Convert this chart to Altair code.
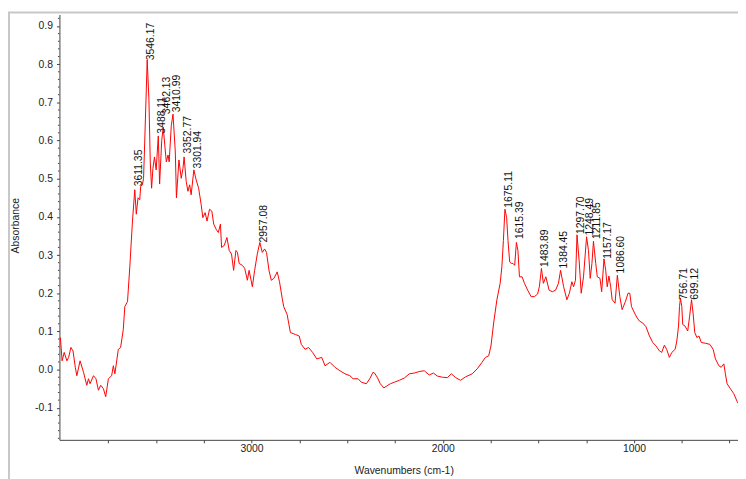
import altair as alt
import pandas as pd

# Spectrum (wavenumber cm-1, absorbance)
wavenumbers = [
    4000, 3991, 3980, 3966, 3957, 3945, 3934, 3922, 3914, 3897, 3879, 3862, 3853, 3845, 3827, 3814,
    3801, 3789, 3775, 3763, 3749, 3732, 3723, 3715, 3697, 3685, 3671, 3663, 3649, 3637, 3623, 3611,
    3603, 3594, 3585, 3580, 3571, 3565, 3559, 3546, 3537, 3530, 3523, 3516, 3508, 3499, 3488, 3481,
    3470, 3462, 3454, 3446, 3437, 3431, 3420, 3411, 3399, 3393, 3380, 3368, 3359, 3353, 3342, 3333,
    3324, 3316, 3302, 3290, 3277, 3264, 3255, 3243, 3233, 3220, 3208, 3198, 3186, 3174, 3163, 3157,
    3143, 3129, 3117, 3105, 3094, 3082, 3074, 3065, 3048, 3036, 3022, 3013, 2996, 2984, 2970, 2957,
    2944, 2932, 2922, 2909, 2897, 2883, 2866, 2854, 2840, 2832, 2814, 2797, 2771, 2751, 2740, 2720,
    2702, 2681, 2659, 2633, 2616, 2590, 2564, 2538, 2512, 2486, 2469, 2443, 2426, 2400, 2382, 2365,
    2357, 2343, 2327, 2308, 2287, 2274, 2253, 2227, 2201, 2175, 2149, 2123, 2097, 2071, 2049, 2028,
    2002, 1976, 1955, 1933, 1907, 1881, 1846, 1820, 1795, 1777, 1760, 1748, 1734, 1717, 1700, 1691,
    1683, 1675, 1666, 1659, 1650, 1641, 1633, 1624, 1615, 1607, 1599, 1585, 1573, 1556, 1538, 1521,
    1504, 1495, 1484, 1474, 1461, 1444, 1427, 1410, 1395, 1384, 1368, 1351, 1338, 1325, 1316, 1306,
    1298, 1287, 1276, 1264, 1248, 1238, 1229, 1220, 1212, 1200, 1192, 1178, 1169, 1157, 1148, 1140,
    1131, 1122, 1114, 1099, 1087, 1074, 1062, 1045, 1031, 1022, 1013, 997, 983, 971, 954, 937,
    919, 902, 885, 867, 855, 841, 829, 815, 802, 785, 776, 767, 762, 757, 750, 745,
    733, 719, 709, 699, 691, 682, 671, 660, 648, 626, 603, 586, 574, 556, 544, 530,
    522, 513, 496, 478, 461, 456,
]
absorbance = [
    0.084, 0.023, 0.045, 0.023, 0.032, 0.058, 0.049, 0.006, -0.016, 0.023, -0.007, -0.041, -0.024, -0.037, -0.016, -0.024,
    -0.054, -0.041, -0.050, -0.071, -0.024, -0.016, 0.010, -0.011, 0.053, 0.058, 0.105, 0.165, 0.178, 0.269, 0.389, 0.471,
    0.407, 0.450, 0.445, 0.480, 0.484, 0.501, 0.596, 0.811, 0.708, 0.544, 0.475, 0.527, 0.557, 0.523, 0.612, 0.486,
    0.600, 0.635, 0.588, 0.544, 0.562, 0.544, 0.639, 0.669, 0.570, 0.450, 0.549, 0.501, 0.527, 0.557, 0.493, 0.467,
    0.484, 0.458, 0.523, 0.497, 0.475, 0.433, 0.398, 0.411, 0.389, 0.420, 0.415, 0.381, 0.368, 0.359, 0.381, 0.320,
    0.325, 0.346, 0.312, 0.303, 0.260, 0.312, 0.307, 0.278, 0.273, 0.265, 0.234, 0.260, 0.217, 0.260, 0.303, 0.333,
    0.307, 0.316, 0.307, 0.260, 0.234, 0.239, 0.256, 0.230, 0.187, 0.165, 0.144, 0.097, 0.092, 0.088, 0.066, 0.053,
    0.058, 0.045, 0.028, 0.032, 0.010, 0.019, 0.006, -0.003, -0.011, -0.016, -0.024, -0.024, -0.033, -0.037, -0.024, -0.007,
    -0.009, -0.020, -0.037, -0.048, -0.041, -0.037, -0.033, -0.028, -0.022, -0.011, -0.009, -0.005, -0.003, -0.014, -0.009, -0.017,
    -0.020, -0.021, -0.011, -0.021, -0.028, -0.019, -0.011, 0.002, 0.019, 0.032, 0.036, 0.062, 0.122, 0.183, 0.226, 0.269,
    0.338, 0.420, 0.398, 0.338, 0.282, 0.278, 0.278, 0.273, 0.333, 0.312, 0.243, 0.243, 0.226, 0.208, 0.191, 0.191,
    0.198, 0.217, 0.265, 0.226, 0.243, 0.208, 0.204, 0.208, 0.226, 0.260, 0.217, 0.183, 0.200, 0.230, 0.217, 0.234,
    0.353, 0.286, 0.200, 0.243, 0.348, 0.312, 0.239, 0.278, 0.336, 0.278, 0.243, 0.239, 0.204, 0.290, 0.260, 0.217,
    0.245, 0.217, 0.183, 0.174, 0.247, 0.191, 0.157, 0.178, 0.200, 0.200, 0.165, 0.148, 0.135, 0.127, 0.122, 0.112,
    0.088, 0.071, 0.062, 0.049, 0.045, 0.064, 0.053, 0.032, 0.045, 0.053, 0.075, 0.114, 0.165, 0.187, 0.165, 0.118,
    0.114, 0.101, 0.140, 0.183, 0.148, 0.097, 0.084, 0.088, 0.071, 0.069, 0.066, 0.053, 0.028, 0.010, 0.006, 0.015,
    -0.011, -0.037, -0.050, -0.063, -0.083, -0.088,
]

# Peak annotations (label text, wavenumber, height where the label starts)
peak_texts = ["3611.35", "3546.17", "3488.11", "3462.13", "3410.99", "3352.77", "3301.94", "2957.08",
              "1675.11", "1615.39", "1483.89", "1384.45", "1297.70", "1248.49", "1211.85", "1157.17",
              "1086.60", "756.71", "699.12"]
peak_wn = [3611.35, 3546.17, 3488.11, 3462.13, 3410.99, 3352.77, 3301.94, 2957.08,
           1675.11, 1615.39, 1483.89, 1384.45, 1297.70, 1248.49, 1211.85, 1157.17,
           1086.60, 756.71, 699.12]
peak_height = [0.480, 0.810, 0.618, 0.669, 0.674, 0.566, 0.527, 0.333,
               0.424, 0.342, 0.269, 0.265, 0.355, 0.351, 0.342, 0.290,
               0.252, 0.183, 0.183]

x_ticks = [3750, 3500, 3250, 3000, 2750, 2500, 2250, 2000, 1750, 1500, 1250, 1000, 750, 500]
y_major = [-0.1, 0.0, 0.1, 0.2, 0.3, 0.4, 0.5, 0.6, 0.7, 0.8, 0.9]
y_minor = [round(-0.18 + 0.02 * i, 2) for i in range(56) if i % 5 != 4]

spec_df = pd.DataFrame({"wn": wavenumbers, "abs": absorbance})
peak_df = pd.DataFrame({"wn": peak_wn, "h": peak_height, "t": peak_texts})
minor_df = pd.DataFrame({"v": y_minor})

FONT = "Liberation Sans"
AXIS_COLOR = "#444444"

x_scale = alt.Scale(domain=[456, 4005], reverse=True, nice=False, zero=False)
y_scale = alt.Scale(domain=[-0.184, 0.930], nice=False, zero=False)

x_axis = alt.Axis(
    title="Wavenumbers (cm-1)",
    values=x_ticks,
    labelExpr="datum.value % 1000 == 0 ? format(datum.value, 'd') : ''",
    labelOverlap=False,
    grid=False,
    tickSize=3,
    labelPadding=1,
    domainColor=AXIS_COLOR,
    tickColor=AXIS_COLOR,
    labelColor="#222222",
    labelFont=FONT,
    labelFontSize=10.5,
    titleFont=FONT,
    titleFontSize=10.5,
    titleFontWeight="normal",
    titleColor="#222222",
    titleX=348,
    titleY=31,
    titleBaseline="middle",
)
y_axis = alt.Axis(
    title="Absorbance",
    values=y_major,
    labelExpr="replace(format(datum.value, '.1f'), '\u2212', '-')",
    labelOverlap=False,
    grid=False,
    tickSize=3,
    labelPadding=4,
    domainColor=AXIS_COLOR,
    tickColor=AXIS_COLOR,
    labelColor="#222222",
    labelFont=FONT,
    labelFontSize=10.5,
    titleFont=FONT,
    titleFontSize=10.5,
    titleFontWeight="normal",
    titleColor="#222222",
    titleX=-44,
    titleY=213,
    titleBaseline="middle",
)

line = alt.Chart(spec_df).mark_line(color="#ff0000", strokeWidth=1, clip=True).encode(
    x=alt.X("wn:Q", scale=x_scale, axis=x_axis),
    y=alt.Y("abs:Q", scale=y_scale, axis=y_axis),
    order="__order:Q",
).transform_window(__order="row_number()")

minor_ticks = alt.Chart(minor_df).mark_rule(color=AXIS_COLOR, strokeWidth=1).encode(
    x=alt.value(-1.5), x2=alt.value(0),
    y=alt.Y("v:Q", scale=y_scale),
)

labels = alt.Chart(peak_df).mark_text(
    angle=270, align="left", baseline="top", dx=0, dy=-1,
    font=FONT, fontSize=10.5, color="#111111",
).encode(
    x=alt.X("wn:Q", scale=x_scale),
    y=alt.Y("h:Q", scale=y_scale),
    text="t:N",
)

one = pd.DataFrame({"a": [0]})
frame_v = alt.Chart(one).mark_rule(color="#c8c8c8", strokeWidth=2).encode(
    x=alt.value(-51), y=alt.value(-2), y2=alt.value(470)
)
frame_h = alt.Chart(one).mark_rule(color="#c8c8c8", strokeWidth=2).encode(
    x=alt.value(-52), x2=alt.value(700), y=alt.value(-2)
)

chart = alt.layer(frame_v, frame_h, line, minor_ticks, labels).properties(
    width=686,
    height=430,
    padding={"left": 52, "top": 4, "right": 0, "bottom": 37},
    autosize=alt.AutoSizeParams(type="none"),
    background="white",
).configure_view(stroke=None)

chart.save("out.html", embed_options={"renderer": "svg", "actions": False})
